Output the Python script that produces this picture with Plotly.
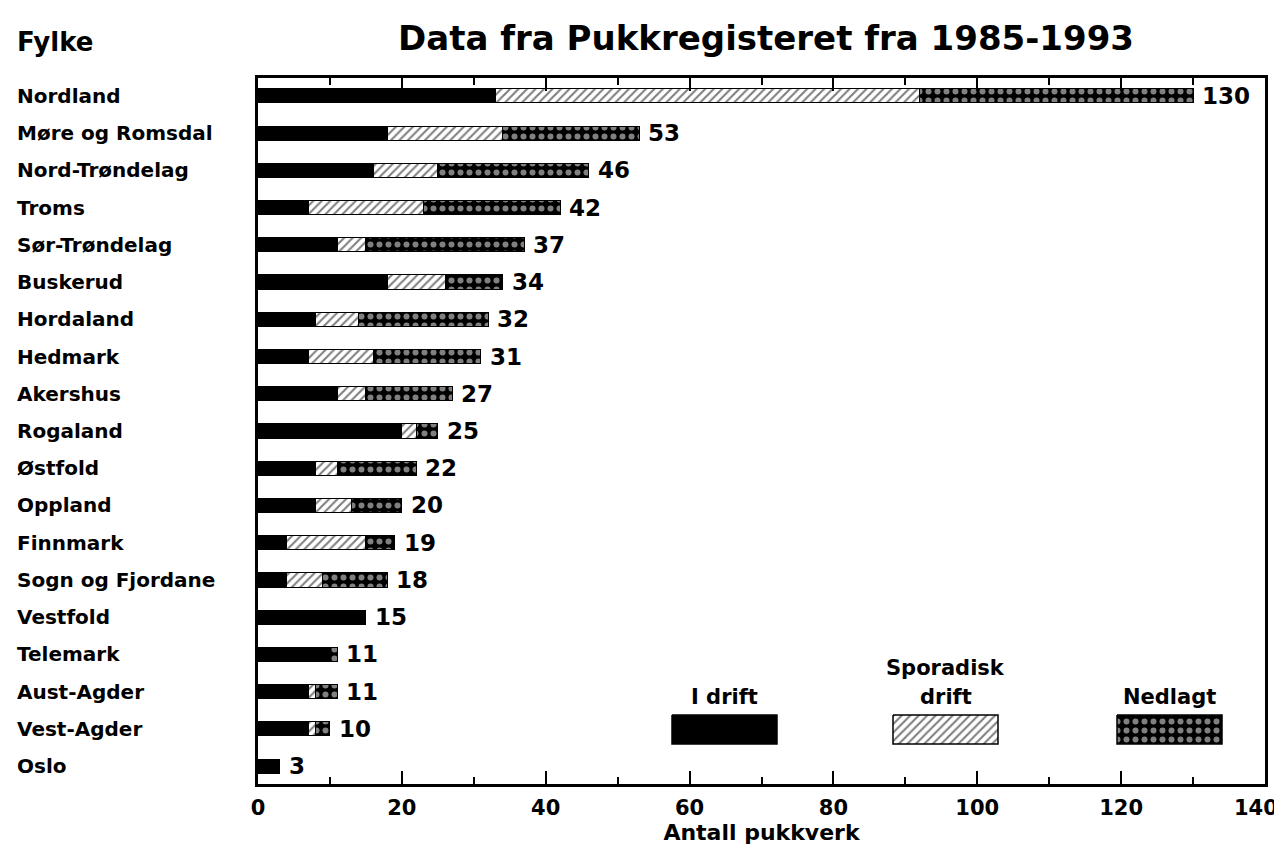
import plotly.graph_objects as go

# Fylker, listed top to bottom as in the chart
fylker = [
    "Nordland", "Møre og Romsdal", "Nord-Trøndelag", "Troms", "Sør-Trøndelag",
    "Buskerud", "Hordaland", "Hedmark", "Akershus", "Rogaland", "Østfold",
    "Oppland", "Finnmark", "Sogn og Fjordane", "Vestfold", "Telemark",
    "Aust-Agder", "Vest-Agder", "Oslo",
]
i_drift = [33, 18, 16, 7, 11, 18, 8, 7, 11, 20, 8, 8, 4, 4, 15, 10, 7, 7, 3]
sporadisk = [59, 16, 9, 16, 4, 8, 6, 9, 4, 2, 3, 5, 11, 5, 0, 0, 1, 1, 0]
nedlagt = [38, 19, 21, 19, 22, 8, 18, 15, 12, 3, 11, 7, 4, 9, 0, 1, 3, 2, 0]

x_ticks = [0, 20, 40, 60, 80, 100, 120, 140]

FONT = "DejaVu Sans, Verdana, sans-serif"

HATCH = dict(shape="/", fgcolor="black", bgcolor="white", size=6, solidity=0.35)
DOTS = dict(shape=".", fgcolor="white", bgcolor="black", size=9, solidity=0.35)


def nz(vals):
    return [v if v else None for v in vals]


def bold(size):
    return dict(size=size, family=FONT, weight="bold", color="black")


fig = go.Figure()
fig.add_trace(go.Bar(
    y=fylker, x=nz(i_drift), orientation="h", name="I drift",
    marker=dict(color="black", line=dict(color="black", width=1)),
))
fig.add_trace(go.Bar(
    y=fylker, x=nz(sporadisk), orientation="h", name="Sporadisk drift",
    marker=dict(color="white", pattern=HATCH, line=dict(color="black", width=1)),
))
fig.add_trace(go.Bar(
    y=fylker, x=nz(nedlagt), orientation="h", name="Nedlagt",
    marker=dict(color="black", pattern=DOTS, line=dict(color="black", width=1)),
))

annotations = []
totals = [a + b + c for a, b, c in zip(i_drift, sporadisk, nedlagt)]
for name, tot in zip(fylker, totals):
    annotations.append(dict(
        x=tot, y=name, xref="x", yref="y", text=str(tot), showarrow=False,
        xanchor="left", xshift=7, font=bold(23),
    ))
    annotations.append(dict(
        x=-0.2413, y=name, xref="paper", yref="y", text=name, showarrow=False,
        xanchor="left", font=bold(20),
    ))

annotations.append(dict(
    x=-0.2413, y=1.051, xref="paper", yref="paper", text="Fylke", showarrow=False,
    xanchor="left", yanchor="middle", font=bold(26),
))

# the last tick label would run off the page edge, so it is right-aligned instead
tick_text = [str(t) for t in x_ticks[:-1]] + [""]
annotations.append(dict(
    x=x_ticks[-1], y=-0.034, xref="x", yref="paper", text=str(x_ticks[-1]),
    showarrow=False, xanchor="right", yanchor="middle", xshift=15, font=bold(21),
))

# legend keys, drawn on an overlay axis measured in page pixels
legend_keys = [
    (672, 777, dict(fillcolor="black"), ["I drift"]),
    (893, 998, dict(fillcolor="white", fillpattern=HATCH), ["Sporadisk", "drift"]),
    (1117, 1222, dict(fillcolor="black", fillpattern=DOTS), ["Nedlagt"]),
]
for x0, x1, fill, lines in legend_keys:
    fig.add_trace(go.Scatter(
        x=[x0, x1, x1, x0, x0], y=[715, 715, 744, 744, 715],
        xaxis="x2", yaxis="y2", mode="lines", fill="toself",
        line=dict(color="black", width=1.5), showlegend=False, hoverinfo="skip",
        **fill,
    ))
    for k, txt in enumerate(reversed(lines)):
        annotations.append(dict(
            x=(x0 + x1) / 2, y=697 - 29 * k, xref="x2", yref="y2", text=txt,
            showarrow=False, font=bold(21),
        ))

# the page body adds an 8px margin, so the figure is 8px smaller on each axis
fig.update_layout(
    width=1274, height=855,
    margin=dict(l=250, r=17, t=70, b=79),
    paper_bgcolor="white", plot_bgcolor="white",
    barmode="stack", bargap=0.62,
    showlegend=False,
    title=dict(
        text="Data fra Pukkregisteret fra 1985-1993",
        x=0.595, xanchor="center", y=0.965, yanchor="middle",
        font=bold(34),
    ),
    xaxis=dict(
        range=[0, 140], tickvals=x_ticks, ticktext=tick_text,
        ticks="inside", ticklen=13, tickwidth=2,
        tickcolor="black", showline=True, linewidth=2.5, linecolor="black",
        mirror="ticks", showgrid=False, zeroline=False, automargin=False,
        minor=dict(ticks="inside", ticklen=7, tickwidth=1.5, dtick=10, tickcolor="black", showgrid=False),
        tickfont=bold(21), ticklabelstandoff=3,
        title=dict(text="Antall pukkverk", standoff=4, font=bold(22)),
    ),
    yaxis=dict(
        type="category", categoryorder="array", categoryarray=fylker,
        range=[len(fylker) - 1 + 0.48, -0.48], automargin=False,
        showticklabels=False, ticks="", showline=True, linewidth=3,
        linecolor="black", mirror=True, showgrid=False, zeroline=False,
    ),
    xaxis2=dict(overlaying="x", range=[258, 1265], visible=False),
    yaxis2=dict(overlaying="y", range=[784, 78], visible=False),
    annotations=annotations,
)

fig.write_html("out.html")
